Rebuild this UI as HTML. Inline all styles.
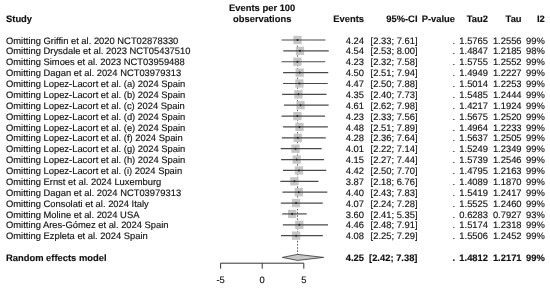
<!DOCTYPE html>
<html><head><meta charset="utf-8"><style>
html,body{margin:0;padding:0;background:#fff;width:550px;height:288px;overflow:hidden}
svg{display:block;filter:grayscale(1)}
text{text-rendering:geometricPrecision;font-family:"Liberation Sans",sans-serif;font-size:9.4px;fill:#111;stroke:#111;stroke-width:0.15px}
.b{font-weight:bold}
.e{text-anchor:end}
.m{text-anchor:middle}
</style></head><body>
<svg width="550" height="288" viewBox="0 0 550 288">

<text class="b" x="6.0" y="21.8">Study</text>
<text class="b m" x="262.2" y="10.6">Events per 100</text>
<text class="b m" x="262.2" y="21.8">observations</text>
<text class="b e" x="364.0" y="21.8">Events</text>
<text class="b e" x="417.5" y="21.8">95%-CI</text>
<text class="b e" x="455.0" y="21.8">P-value</text>
<text class="b e" x="488.0" y="21.8">Tau2</text>
<text class="b e" x="521.6" y="21.8">Tau</text>
<text class="b e" x="544.8" y="21.8">I2</text>
<line x1="297.56" y1="36.0" x2="297.56" y2="254.39999999999998" stroke="#333" stroke-width="0.8" stroke-dasharray="1.6 1.6"/>
<rect x="293.33" y="35.85" width="8.3" height="8.3" fill="#c6c6c6"/>
<line x1="281.59" y1="40.00" x2="325.52" y2="40.00" stroke="#4a4a4a" stroke-width="1.2"/>
<circle cx="297.48" cy="40.00" r="1" fill="#222"/>
<text x="6.0" y="43.60">Omitting Griffin et al. 2020 NCT02878330</text>
<text class="e" x="364.0" y="43.60">4.24</text>
<text class="e" x="417.5" y="43.60">[2.33; 7.61]</text>
<text class="e" x="455.0" y="43.60">.</text>
<text class="e" x="488.0" y="43.60">1.5765</text>
<text class="e" x="521.6" y="43.60">1.2556</text>
<text class="e" x="544.8" y="43.60">99%</text>
<rect x="295.82" y="46.72" width="8.3" height="8.3" fill="#c6c6c6"/>
<line x1="283.25" y1="50.87" x2="328.76" y2="50.87" stroke="#4a4a4a" stroke-width="1.2"/>
<circle cx="299.97" cy="50.87" r="1" fill="#222"/>
<text x="6.0" y="54.47">Omitting Drysdale et al. 2023 NCT05437510</text>
<text class="e" x="364.0" y="54.47">4.54</text>
<text class="e" x="417.5" y="54.47">[2.53; 8.00]</text>
<text class="e" x="455.0" y="54.47">.</text>
<text class="e" x="488.0" y="54.47">1.4847</text>
<text class="e" x="521.6" y="54.47">1.2185</text>
<text class="e" x="544.8" y="54.47">98%</text>
<rect x="293.24" y="57.59" width="8.3" height="8.3" fill="#c6c6c6"/>
<line x1="281.50" y1="61.74" x2="325.27" y2="61.74" stroke="#4a4a4a" stroke-width="1.2"/>
<circle cx="297.39" cy="61.74" r="1" fill="#222"/>
<text x="6.0" y="65.34">Omitting Simoes et al. 2023 NCT03959488</text>
<text class="e" x="364.0" y="65.34">4.23</text>
<text class="e" x="417.5" y="65.34">[2.32; 7.58]</text>
<text class="e" x="455.0" y="65.34">.</text>
<text class="e" x="488.0" y="65.34">1.5755</text>
<text class="e" x="521.6" y="65.34">1.2552</text>
<text class="e" x="544.8" y="65.34">99%</text>
<rect x="295.49" y="68.46" width="8.3" height="8.3" fill="#c6c6c6"/>
<line x1="283.08" y1="72.61" x2="328.26" y2="72.61" stroke="#4a4a4a" stroke-width="1.2"/>
<circle cx="299.64" cy="72.61" r="1" fill="#222"/>
<text x="6.0" y="76.21">Omitting Dagan et al. 2024 NCT03979313</text>
<text class="e" x="364.0" y="76.21">4.50</text>
<text class="e" x="417.5" y="76.21">[2.51; 7.94]</text>
<text class="e" x="455.0" y="76.21">.</text>
<text class="e" x="488.0" y="76.21">1.4949</text>
<text class="e" x="521.6" y="76.21">1.2227</text>
<text class="e" x="544.8" y="76.21">99%</text>
<rect x="295.24" y="79.33" width="8.3" height="8.3" fill="#c6c6c6"/>
<line x1="283.00" y1="83.48" x2="327.76" y2="83.48" stroke="#4a4a4a" stroke-width="1.2"/>
<circle cx="299.39" cy="83.48" r="1" fill="#222"/>
<text x="6.0" y="87.08">Omitting Lopez-Lacort et al. (a) 2024 Spain</text>
<text class="e" x="364.0" y="87.08">4.47</text>
<text class="e" x="417.5" y="87.08">[2.50; 7.88]</text>
<text class="e" x="455.0" y="87.08">.</text>
<text class="e" x="488.0" y="87.08">1.5014</text>
<text class="e" x="521.6" y="87.08">1.2253</text>
<text class="e" x="544.8" y="87.08">99%</text>
<rect x="294.24" y="90.20" width="8.3" height="8.3" fill="#c6c6c6"/>
<line x1="282.17" y1="94.35" x2="326.51" y2="94.35" stroke="#4a4a4a" stroke-width="1.2"/>
<circle cx="298.39" cy="94.35" r="1" fill="#222"/>
<text x="6.0" y="97.95">Omitting Lopez-Lacort et al. (b) 2024 Spain</text>
<text class="e" x="364.0" y="97.95">4.35</text>
<text class="e" x="417.5" y="97.95">[2.40; 7.73]</text>
<text class="e" x="455.0" y="97.95">.</text>
<text class="e" x="488.0" y="97.95">1.5485</text>
<text class="e" x="521.6" y="97.95">1.2444</text>
<text class="e" x="544.8" y="97.95">99%</text>
<rect x="296.41" y="101.07" width="8.3" height="8.3" fill="#c6c6c6"/>
<line x1="284.00" y1="105.22" x2="328.59" y2="105.22" stroke="#4a4a4a" stroke-width="1.2"/>
<circle cx="300.56" cy="105.22" r="1" fill="#222"/>
<text x="6.0" y="108.82">Omitting Lopez-Lacort et al. (c) 2024 Spain</text>
<text class="e" x="364.0" y="108.82">4.61</text>
<text class="e" x="417.5" y="108.82">[2.62; 7.98]</text>
<text class="e" x="455.0" y="108.82">.</text>
<text class="e" x="488.0" y="108.82">1.4217</text>
<text class="e" x="521.6" y="108.82">1.1924</text>
<text class="e" x="544.8" y="108.82">99%</text>
<rect x="293.24" y="111.94" width="8.3" height="8.3" fill="#c6c6c6"/>
<line x1="281.59" y1="116.09" x2="325.10" y2="116.09" stroke="#4a4a4a" stroke-width="1.2"/>
<circle cx="297.39" cy="116.09" r="1" fill="#222"/>
<text x="6.0" y="119.69">Omitting Lopez-Lacort et al. (d) 2024 Spain</text>
<text class="e" x="364.0" y="119.69">4.23</text>
<text class="e" x="417.5" y="119.69">[2.33; 7.56]</text>
<text class="e" x="455.0" y="119.69">.</text>
<text class="e" x="488.0" y="119.69">1.5675</text>
<text class="e" x="521.6" y="119.69">1.2520</text>
<text class="e" x="544.8" y="119.69">99%</text>
<rect x="295.32" y="122.81" width="8.3" height="8.3" fill="#c6c6c6"/>
<line x1="283.08" y1="126.96" x2="327.84" y2="126.96" stroke="#4a4a4a" stroke-width="1.2"/>
<circle cx="299.47" cy="126.96" r="1" fill="#222"/>
<text x="6.0" y="130.56">Omitting Lopez-Lacort et al. (e) 2024 Spain</text>
<text class="e" x="364.0" y="130.56">4.48</text>
<text class="e" x="417.5" y="130.56">[2.51; 7.89]</text>
<text class="e" x="455.0" y="130.56">.</text>
<text class="e" x="488.0" y="130.56">1.4964</text>
<text class="e" x="521.6" y="130.56">1.2233</text>
<text class="e" x="544.8" y="130.56">99%</text>
<rect x="293.66" y="133.68" width="8.3" height="8.3" fill="#c6c6c6"/>
<line x1="281.84" y1="137.83" x2="325.76" y2="137.83" stroke="#4a4a4a" stroke-width="1.2"/>
<circle cx="297.81" cy="137.83" r="1" fill="#222"/>
<text x="6.0" y="141.43">Omitting Lopez-Lacort et al. (f) 2024 Spain</text>
<text class="e" x="364.0" y="141.43">4.28</text>
<text class="e" x="417.5" y="141.43">[2.36; 7.64]</text>
<text class="e" x="455.0" y="141.43">.</text>
<text class="e" x="488.0" y="141.43">1.5637</text>
<text class="e" x="521.6" y="141.43">1.2505</text>
<text class="e" x="544.8" y="141.43">99%</text>
<rect x="291.41" y="144.55" width="8.3" height="8.3" fill="#c6c6c6"/>
<line x1="280.67" y1="148.70" x2="321.60" y2="148.70" stroke="#4a4a4a" stroke-width="1.2"/>
<circle cx="295.56" cy="148.70" r="1" fill="#222"/>
<text x="6.0" y="152.30">Omitting Lopez-Lacort et al. (g) 2024 Spain</text>
<text class="e" x="364.0" y="152.30">4.01</text>
<text class="e" x="417.5" y="152.30">[2.22; 7.14]</text>
<text class="e" x="455.0" y="152.30">.</text>
<text class="e" x="488.0" y="152.30">1.5249</text>
<text class="e" x="521.6" y="152.30">1.2349</text>
<text class="e" x="544.8" y="152.30">99%</text>
<rect x="292.58" y="155.42" width="8.3" height="8.3" fill="#c6c6c6"/>
<line x1="281.09" y1="159.57" x2="324.10" y2="159.57" stroke="#4a4a4a" stroke-width="1.2"/>
<circle cx="296.73" cy="159.57" r="1" fill="#222"/>
<text x="6.0" y="163.17">Omitting Lopez-Lacort et al. (h) 2024 Spain</text>
<text class="e" x="364.0" y="163.17">4.15</text>
<text class="e" x="417.5" y="163.17">[2.27; 7.44]</text>
<text class="e" x="455.0" y="163.17">.</text>
<text class="e" x="488.0" y="163.17">1.5739</text>
<text class="e" x="521.6" y="163.17">1.2546</text>
<text class="e" x="544.8" y="163.17">99%</text>
<rect x="294.82" y="166.29" width="8.3" height="8.3" fill="#c6c6c6"/>
<line x1="283.00" y1="170.44" x2="326.26" y2="170.44" stroke="#4a4a4a" stroke-width="1.2"/>
<circle cx="298.97" cy="170.44" r="1" fill="#222"/>
<text x="6.0" y="174.04">Omitting Lopez-Lacort et al. (i) 2024 Spain</text>
<text class="e" x="364.0" y="174.04">4.42</text>
<text class="e" x="417.5" y="174.04">[2.50; 7.70]</text>
<text class="e" x="455.0" y="174.04">.</text>
<text class="e" x="488.0" y="174.04">1.4795</text>
<text class="e" x="521.6" y="174.04">1.2163</text>
<text class="e" x="544.8" y="174.04">99%</text>
<rect x="290.25" y="177.16" width="8.3" height="8.3" fill="#c6c6c6"/>
<line x1="280.34" y1="181.31" x2="318.44" y2="181.31" stroke="#4a4a4a" stroke-width="1.2"/>
<circle cx="294.40" cy="181.31" r="1" fill="#222"/>
<text x="6.0" y="184.91">Omitting Ernst et al. 2024 Luxemburg</text>
<text class="e" x="364.0" y="184.91">3.87</text>
<text class="e" x="417.5" y="184.91">[2.18; 6.76]</text>
<text class="e" x="455.0" y="184.91">.</text>
<text class="e" x="488.0" y="184.91">1.4089</text>
<text class="e" x="521.6" y="184.91">1.1870</text>
<text class="e" x="544.8" y="184.91">99%</text>
<rect x="294.66" y="188.03" width="8.3" height="8.3" fill="#c6c6c6"/>
<line x1="282.42" y1="192.18" x2="327.35" y2="192.18" stroke="#4a4a4a" stroke-width="1.2"/>
<circle cx="298.81" cy="192.18" r="1" fill="#222"/>
<text x="6.0" y="195.78">Omitting Dagan et al. 2024 NCT03979313</text>
<text class="e" x="364.0" y="195.78">4.40</text>
<text class="e" x="417.5" y="195.78">[2.43; 7.83]</text>
<text class="e" x="455.0" y="195.78">.</text>
<text class="e" x="488.0" y="195.78">1.5419</text>
<text class="e" x="521.6" y="195.78">1.2417</text>
<text class="e" x="544.8" y="195.78">99%</text>
<rect x="291.91" y="198.90" width="8.3" height="8.3" fill="#c6c6c6"/>
<line x1="280.84" y1="203.05" x2="322.77" y2="203.05" stroke="#4a4a4a" stroke-width="1.2"/>
<circle cx="296.06" cy="203.05" r="1" fill="#222"/>
<text x="6.0" y="206.65">Omitting Consolati et al. 2024 Italy</text>
<text class="e" x="364.0" y="206.65">4.07</text>
<text class="e" x="417.5" y="206.65">[2.24; 7.28]</text>
<text class="e" x="455.0" y="206.65">.</text>
<text class="e" x="488.0" y="206.65">1.5525</text>
<text class="e" x="521.6" y="206.65">1.2460</text>
<text class="e" x="544.8" y="206.65">99%</text>
<rect x="288.00" y="209.77" width="8.3" height="8.3" fill="#c6c6c6"/>
<line x1="282.25" y1="213.92" x2="306.71" y2="213.92" stroke="#4a4a4a" stroke-width="1.2"/>
<circle cx="292.15" cy="213.92" r="1" fill="#222"/>
<text x="6.0" y="217.52">Omitting Moline et al. 2024 USA</text>
<text class="e" x="364.0" y="217.52">3.60</text>
<text class="e" x="417.5" y="217.52">[2.41; 5.35]</text>
<text class="e" x="455.0" y="217.52">.</text>
<text class="e" x="488.0" y="217.52">0.6283</text>
<text class="e" x="521.6" y="217.52">0.7927</text>
<text class="e" x="544.8" y="217.52">93%</text>
<rect x="295.16" y="220.64" width="8.3" height="8.3" fill="#c6c6c6"/>
<line x1="282.83" y1="224.79" x2="328.01" y2="224.79" stroke="#4a4a4a" stroke-width="1.2"/>
<circle cx="299.31" cy="224.79" r="1" fill="#222"/>
<text x="6.0" y="228.39">Omitting Ares-Gómez et al. 2024 Spain</text>
<text class="e" x="364.0" y="228.39">4.46</text>
<text class="e" x="417.5" y="228.39">[2.48; 7.91]</text>
<text class="e" x="455.0" y="228.39">.</text>
<text class="e" x="488.0" y="228.39">1.5174</text>
<text class="e" x="521.6" y="228.39">1.2318</text>
<text class="e" x="544.8" y="228.39">99%</text>
<rect x="292.00" y="231.51" width="8.3" height="8.3" fill="#c6c6c6"/>
<line x1="280.92" y1="235.66" x2="322.85" y2="235.66" stroke="#4a4a4a" stroke-width="1.2"/>
<circle cx="296.15" cy="235.66" r="1" fill="#222"/>
<text x="6.0" y="239.26">Omitting Ezpleta et al. 2024 Spain</text>
<text class="e" x="364.0" y="239.26">4.08</text>
<text class="e" x="417.5" y="239.26">[2.25; 7.29]</text>
<text class="e" x="455.0" y="239.26">.</text>
<text class="e" x="488.0" y="239.26">1.5506</text>
<text class="e" x="521.6" y="239.26">1.2452</text>
<text class="e" x="544.8" y="239.26">99%</text>
<polygon points="282.33,257.40 297.56,254.40 323.60,257.40 297.56,260.40" fill="#c8c8c8" stroke="#333" stroke-width="0.8"/>
<text class="b" x="6.0" y="261.00">Random effects model</text>
<text class="b e" x="364.0" y="261.00">4.25</text>
<text class="b e" x="417.5" y="261.00">[2.42; 7.38]</text>
<text class="b e" x="455.0" y="261.00">.</text>
<text class="b e" x="488.0" y="261.00">1.4812</text>
<text class="b e" x="521.6" y="261.00">1.2171</text>
<text class="b e" x="544.8" y="261.00">99%</text>
<line x1="220.60" y1="263.2" x2="303.80" y2="263.2" stroke="#333" stroke-width="1"/>
<line x1="220.60" y1="263.2" x2="220.60" y2="268.7" stroke="#333" stroke-width="1"/>
<text class="m" x="220.60" y="283.0">-5</text>
<line x1="262.20" y1="263.2" x2="262.20" y2="268.7" stroke="#333" stroke-width="1"/>
<text class="m" x="262.20" y="283.0">0</text>
<line x1="303.80" y1="263.2" x2="303.80" y2="268.7" stroke="#333" stroke-width="1"/>
<text class="m" x="303.80" y="283.0">5</text>
</svg>
</body></html>
